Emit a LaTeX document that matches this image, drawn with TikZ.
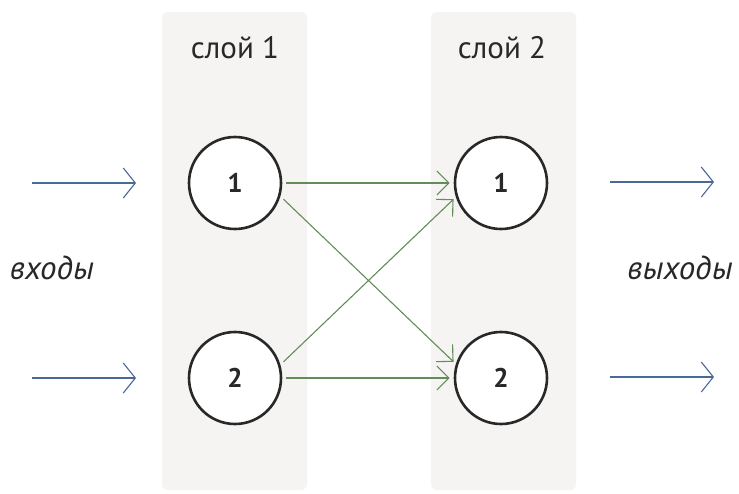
\documentclass[tikz,border=0pt]{standalone}
\usepackage{fontspec}
\setmainfont{PT Sans}
\usetikzlibrary{arrows.meta}
\definecolor{bandgrey}{RGB}{245,244,242}
\definecolor{inblue}{RGB}{75,105,150}
\definecolor{wgreen}{RGB}{100,140,90}
\definecolor{inkgrey}{RGB}{40,40,40}
\tikzset{
  band/.style={fill=bandgrey, draw=none, rounded corners=6pt},
  neuron/.style={circle, draw=inkgrey, line width=2.6pt, fill=white, minimum size=92pt, inner sep=0pt, font=\bfseries\fontsize{27}{30}\selectfont, text=inkgrey},
  layerlabel/.style={font=\fontsize{31}{34}\selectfont, text=inkgrey},
  sidelabel/.style={font=\itshape\fontsize{33}{36}\selectfont, text=inkgrey},
  ioarrow/.style={draw=inblue, line width=1.1pt, -{Straight Barb[length=12pt,width=30pt,line width=1.1pt]}},
  warrow/.style={draw=wgreen, line width=1.1pt, -{Straight Barb[length=12pt,width=24pt,line width=1.1pt]}}
}
\begin{document}
\begin{tikzpicture}[x=1pt,y=-1pt]
\useasboundingbox (0,0) rectangle (739,493);
\fill[white] (0,0) rectangle (739,493);
\path[band] (162,12) rectangle (307,490);
\path[band] (431,12) rectangle (576,490);
\node[layerlabel] (l1) at (235,48) {слой 1};
\node[layerlabel] (l2) at (502,48) {слой 2};
\node[neuron] (a1) at (235,183) {1};
\node[neuron] (a2) at (235,378) {2};
\node[neuron] (b1) at (501,183) {1};
\node[neuron] (b2) at (501,378) {2};
\node[sidelabel] (in) at (52,268) {входы};
\node[sidelabel] (out) at (680,268) {выходы};
\coordinate (i1) at (32,183);
\coordinate (i1e) at (136,183);
\coordinate (i2) at (32,378);
\coordinate (i2e) at (136,378);
\coordinate (o1) at (610,182);
\coordinate (o1e) at (714,182);
\coordinate (o2) at (610,377);
\coordinate (o2e) at (714,377);
\draw[ioarrow] (i1) -- (i1e);
\draw[ioarrow] (i2) -- (i2e);
\draw[ioarrow] (o1) -- (o1e);
\draw[ioarrow] (o2) -- (o2e);
\draw[warrow] (a1.east) ++(4,0) -- ([xshift=-4pt]b1.west);
\draw[warrow] (a2.east) ++(4,0) -- ([xshift=-4pt]b2.west);
\draw[warrow] ([shift={(4,0)}]a1.-20) -- ([shift={(-3,0)}]b2.160);
\draw[warrow] ([shift={(4,0)}]a2.20) -- ([shift={(-3,0)}]b1.-160);
\end{tikzpicture}
\end{document}
